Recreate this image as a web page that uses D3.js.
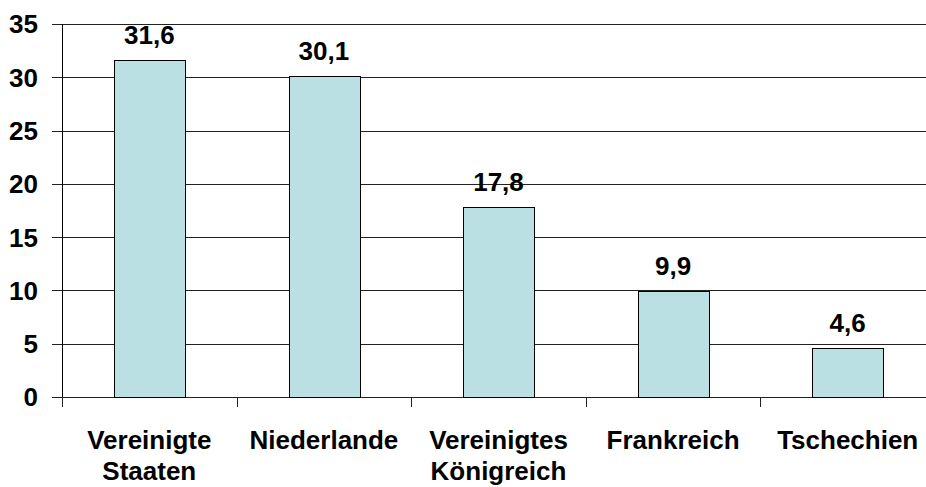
<!DOCTYPE html>
<html><head><meta charset="utf-8">
<script src="https://cdn.jsdelivr.net/npm/d3@7"></script>
<style>body{margin:0;background:#fff;} svg{display:block;} text{font-family:"Liberation Sans",Arial,sans-serif;font-weight:bold;fill:#000;}</style>
</head><body>
<svg id="c" width="926" height="487"></svg>
<script>
const categories = [["Vereinigte","Staaten"],["Niederlande"],["Vereinigtes","Königreich"],["Frankreich"],["Tschechien"]];
const values = [31.6, 30.1, 17.8, 9.9, 4.6];
const valueLabels = ["31,6","30,1","17,8","9,9","4,6"];
const yTicks = [0,5,10,15,20,25,30,35];

(function(){
const svg = d3.select("#c");
const mLeft = 62, mRight = 935, mTop = 24, mBottom = 397;
const fs = 26;
const x = d3.scaleBand().domain(d3.range(categories.length)).range([mLeft, mRight]).padding(0);
const y = d3.scaleLinear().domain([0, 35]).range([mBottom, mTop]);

svg.append("g").selectAll("line").data(yTicks).join("line")
  .attr("x1", mLeft - 10).attr("x2", mRight)
  .attr("y1", d => Math.round(y(d)) + 0.5).attr("y2", d => Math.round(y(d)) + 0.5)
  .attr("stroke", "#222").attr("stroke-width", 1);

svg.append("line").attr("x1", mLeft + 0.5).attr("x2", mLeft + 0.5)
  .attr("y1", Math.round(y(35))).attr("y2", Math.round(y(0)) + 10)
  .attr("stroke", "#000");

const bounds = d3.range(categories.length + 1).map(i => mLeft + i * x.step());
svg.append("g").selectAll("line").data(bounds).join("line")
  .attr("x1", d => Math.round(d) + 0.5).attr("x2", d => Math.round(d) + 0.5)
  .attr("y1", Math.round(y(0))).attr("y2", Math.round(y(0)) + 10)
  .attr("stroke", "#222");

const bw = x.bandwidth() * 0.405;
svg.append("g").selectAll("rect").data(values).join("rect")
  .attr("x", (d, i) => Math.round(x(i) + x.bandwidth() / 2 - bw / 2) + 0.5)
  .attr("width", Math.round(bw))
  .attr("y", d => Math.round(y(d)) + 0.5)
  .attr("height", d => Math.round(y(0)) - Math.round(y(d)))
  .attr("fill", "#BBE0E3").attr("stroke", "#000").attr("stroke-width", 1);

svg.append("g").selectAll("text").data(yTicks).join("text")
  .attr("x", 38).attr("y", d => y(d))
  .attr("dy", "0.36em").attr("text-anchor", "end").attr("font-size", fs)
  .text(d => d);

svg.append("g").selectAll("text").data(values).join("text")
  .attr("x", (d, i) => x(i) + x.bandwidth() / 2).attr("y", d => y(d) - 16)
  .attr("text-anchor", "middle").attr("font-size", fs)
  .text((d, i) => valueLabels[i]);

const cg = svg.append("g").selectAll("g").data(categories).join("g");
cg.each(function(lines, i) {
  d3.select(this).selectAll("text").data(lines).join("text")
    .attr("x", x(i) + x.bandwidth() / 2).attr("y", (l, j) => 449 + j * 31)
    .attr("text-anchor", "middle").attr("font-size", fs)
    .text(l => l);
});
})();
</script>
</body></html>
